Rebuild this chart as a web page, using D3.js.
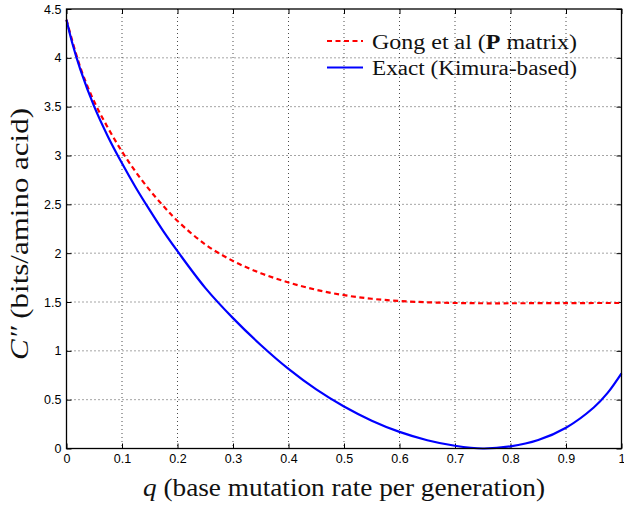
<!DOCTYPE html>
<html>
<head>
<meta charset="utf-8">
<script src="https://cdn.jsdelivr.net/npm/d3@7"></script>
<style>
  html, body { margin: 0; padding: 0; background: #fff; }
  svg { display: block; }
  .tick-label { font-family: "Liberation Sans", Arial, sans-serif; font-size: 12.5px; fill: #000; }
</style>
</head>
<body>
<svg id="chart" width="624" height="505"></svg>
<script>
// Base mutation rate q (per generation)
const qGong  = [0, 0.025, 0.05, 0.075, 0.1, 0.125, 0.15, 0.175, 0.2, 0.25, 0.3, 0.35, 0.4, 0.45, 0.5, 0.55, 0.6, 0.65, 0.7, 0.75, 0.8, 0.9, 1.0];
// C'' for the Gong et al P-matrix model (bits/amino acid)
const cGong  = [4.39, 3.90, 3.55, 3.28, 3.04, 2.83, 2.645, 2.48, 2.33, 2.09, 1.92, 1.795, 1.70, 1.625, 1.57, 1.533, 1.51, 1.497, 1.49, 1.487, 1.487, 1.489, 1.49];

const qExact = [0, 0.01, 0.025, 0.05, 0.075, 0.1, 0.125, 0.15, 0.175, 0.2, 0.25, 0.3, 0.35, 0.4, 0.45, 0.5, 0.55, 0.6, 0.65, 0.7, 0.75, 0.8, 0.85, 0.9, 0.95, 0.975, 1.0];
// C'' for the exact Kimura-based model (bits/amino acid)
const cExact = [4.39, 4.16, 3.88, 3.50, 3.19, 2.92, 2.67, 2.44, 2.22, 2.02, 1.645, 1.335, 1.06, 0.815, 0.605, 0.43, 0.285, 0.17, 0.085, 0.028, 0.0, 0.022, 0.087, 0.213, 0.42, 0.57, 0.77];

const xTicks = [0, 0.1, 0.2, 0.3, 0.4, 0.5, 0.6, 0.7, 0.8, 0.9, 1];
const xTickLabels = ["0", "0.1", "0.2", "0.3", "0.4", "0.5", "0.6", "0.7", "0.8", "0.9", "1"];
const yTicks = [0, 0.5, 1, 1.5, 2, 2.5, 3, 3.5, 4, 4.5];
const yTickLabels = ["0", "0.5", "1", "1.5", "2", "2.5", "3", "3.5", "4", "4.5"];

const gongName = ["Gong et al (", "P", " matrix)"];
const exactName = "Exact (Kimura-based)";
const serif = "'Liberation Serif', 'Times New Roman', serif";

const svg = d3.select("#chart");
const m = { left: 66.5, right: 621.5, top: 9, bottom: 448.5 };

const x = d3.scaleLinear().domain([0, 1]).range([m.left, m.right]);
const y = d3.scaleLinear().domain([0, 4.5]).range([m.bottom, m.top]);

// dotted grid
const grid = svg.append("g").attr("stroke", "#000").attr("stroke-width", 1)
  .attr("stroke-dasharray", "1,3").attr("opacity", 0.7);
xTicks.slice(1, -1).forEach(t => {
  grid.append("line").attr("x1", x(t)).attr("x2", x(t)).attr("y1", m.top).attr("y2", m.bottom);
});
yTicks.slice(1, -1).forEach(t => {
  grid.append("line").attr("x1", m.left).attr("x2", m.right).attr("y1", y(t)).attr("y2", y(t));
});

// inward ticks via d3 axes
const axB = d3.axisBottom(x).tickValues(xTicks).tickSize(-5).tickFormat((d, i) => xTickLabels[i]).tickPadding(6);
const axT = d3.axisTop(x).tickValues(xTicks).tickSize(-5).tickFormat("");
const axL = d3.axisLeft(y).tickValues(yTicks).tickSize(-5).tickFormat((d, i) => yTickLabels[i]).tickPadding(5);
const axR = d3.axisRight(y).tickValues(yTicks).tickSize(-5).tickFormat("");

function styleAxis(g) {
  g.select(".domain").remove();
  g.selectAll(".tick line").attr("stroke", "#000").attr("stroke-width", 1);
  g.selectAll(".tick text").attr("class", "tick-label").attr("fill", "#000");
}
svg.append("g").attr("transform", `translate(0,${m.bottom})`).call(axB).call(styleAxis);
svg.append("g").attr("transform", `translate(0,${m.top})`).call(axT).call(styleAxis);
svg.append("g").attr("transform", `translate(${m.left},0)`).call(axL).call(styleAxis);
svg.append("g").attr("transform", `translate(${m.right},0)`).call(axR).call(styleAxis);

// curves
const lineGen = d3.line().curve(d3.curveCatmullRom.alpha(0.5));

svg.append("path")
  .attr("d", lineGen(qGong.map((q, i) => [x(q), y(cGong[i])])))
  .attr("fill", "none").attr("stroke", "#ff0000").attr("stroke-width", 2.2)
  .attr("stroke-dasharray", "5,3.5");

svg.append("path")
  .attr("d", lineGen(qExact.map((q, i) => [x(q), y(cExact[i])])))
  .attr("fill", "none").attr("stroke", "#0000ff").attr("stroke-width", 2.2);

// frame
svg.append("rect").attr("x", m.left).attr("y", m.top).attr("width", m.right - m.left).attr("height", m.bottom - m.top)
  .attr("fill", "none").attr("stroke", "#000").attr("stroke-width", 1.3);

// legend
const lg = svg.append("g").attr("font-family", serif).attr("fill", "#111");
lg.append("line").attr("x1", 327).attr("x2", 363).attr("y1", 41).attr("y2", 41)
  .attr("stroke", "#ff0000").attr("stroke-width", 2.2).attr("stroke-dasharray", "5,3.5");
lg.append("line").attr("x1", 327).attr("x2", 363).attr("y1", 67.5).attr("y2", 67.5)
  .attr("stroke", "#0000ff").attr("stroke-width", 2.2);
const t1 = lg.append("text").attr("x", 372).attr("y", 48.5).attr("font-size", 20.5)
  .attr("textLength", 205).attr("lengthAdjust", "spacingAndGlyphs");
t1.append("tspan").text(gongName[0]);
t1.append("tspan").attr("font-weight", "bold").text(gongName[1]);
t1.append("tspan").text(gongName[2]);
lg.append("text").attr("x", 372).attr("y", 75).attr("font-size", 20.5)
  .attr("textLength", 205).attr("lengthAdjust", "spacingAndGlyphs").text(exactName);

// axis labels
const xl = svg.append("text").attr("font-family", serif).attr("fill", "#111")
  .attr("x", (m.left + m.right) / 2).attr("y", 495.5)
  .attr("text-anchor", "middle").attr("font-size", 25)
  .attr("textLength", 402).attr("lengthAdjust", "spacingAndGlyphs");
xl.append("tspan").attr("font-style", "italic").text("q");
xl.append("tspan").text(" (base mutation rate per generation)");

const yl = svg.append("text").attr("font-family", serif).attr("fill", "#111")
  .attr("transform", `translate(28,234) rotate(-90)`)
  .attr("text-anchor", "middle").attr("font-size", 26)
  .attr("textLength", 252).attr("lengthAdjust", "spacingAndGlyphs");
yl.append("tspan").attr("font-style", "italic").text("C\u2033");
yl.append("tspan").text(" (bits/amino acid)");
</script>
</body>
</html>
